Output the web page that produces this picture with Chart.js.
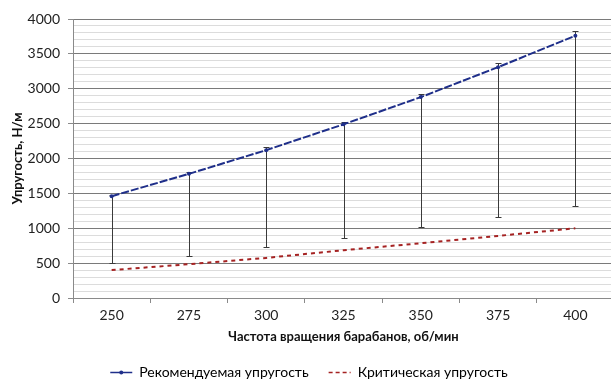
<!DOCTYPE html>
<html>
<head>
<meta charset="utf-8">
<script src="https://cdn.jsdelivr.net/npm/chart.js@4.4.1/dist/chart.umd.min.js"></script>
<style>
  html, body { margin: 0; padding: 0; background: #fff; overflow: hidden; }
  #wrap { width: 618px; height: 379px; }
</style>
</head>
<body>
<div id="wrap"><canvas id="chart"></canvas></div>
<script>
// ---- DATA ----
const speeds = ['250', '275', '300', '325', '350', '375', '400'];
const recommended = [1460, 1780, 2120, 2490, 2880, 3310, 3760];
const critical = [400, 485, 575, 685, 785, 890, 1000];
// error bar bounds for the recommended series
const recLow = [500, 605, 730, 865, 1015, 1160, 1325];
const recHigh = [1480, 1810, 2165, 2525, 2930, 3365, 3835];

const FONT = "Lato, 'Open Sans', sans-serif";
const BLUE = '#1f2f8a';
const RED = '#a52222';

// error bars + legend line samples, drawn with the chart's own scales / legend boxes
const errorBars = {
    id: 'errorBars',
    beforeDatasetsDraw(chart) {
        const { ctx } = chart;
        const xs = chart.scales.x, ys = chart.scales.y;
        ctx.save();
        ctx.strokeStyle = '#3a3a3a';
        ctx.lineWidth = 1;
        recommended.forEach((v, i) => {
            const x = Math.round(xs.getPixelForValue(i)) + 0.5;
            const yLo = Math.round(ys.getPixelForValue(recLow[i])) + 0.5;
            const yHi = Math.round(ys.getPixelForValue(recHigh[i])) + 0.5;
            ctx.beginPath();
            ctx.moveTo(x, yHi);
            ctx.lineTo(x, yLo);
            ctx.moveTo(x - 3, yHi);
            ctx.lineTo(x + 3, yHi);
            ctx.moveTo(x - 3, yLo);
            ctx.lineTo(x + 3, yLo);
            ctx.stroke();
        });
        ctx.restore();
    },
    afterDraw(chart) {
        const boxes = chart.legend && chart.legend.legendHitBoxes;
        if (!boxes) return;
        const ctx = chart.ctx;
        chart.data.datasets.forEach((ds, i) => {
            const b = boxes[i];
            if (!b) return;
            const y = Math.round(b.top + b.height / 2) + 0.5;
            ctx.save();
            ctx.strokeStyle = ds.borderColor;
            ctx.lineWidth = 1.5;
            ctx.setLineDash(i === 0 ? [] : [4, 3]);
            ctx.beginPath();
            ctx.moveTo(b.left, y);
            ctx.lineTo(b.left + 22, y);
            ctx.stroke();
            if (i === 0) {
                ctx.fillStyle = ds.borderColor;
                ctx.beginPath();
                ctx.arc(b.left + 11, y, 2, 0, Math.PI * 2);
                ctx.fill();
            }
            ctx.restore();
        });
    }
};

new Chart(document.getElementById('chart'), {
    type: 'line',
    data: {
        labels: speeds,
        datasets: [
            {
                label: 'Рекомендуемая упругость',
                data: recommended,
                borderColor: BLUE,
                backgroundColor: BLUE,
                borderWidth: 2,
                borderDash: [8, 2],
                pointRadius: 2,
                pointBorderWidth: 0,
                tension: 0
            },
            {
                label: 'Критическая упругость',
                data: critical,
                borderColor: RED,
                backgroundColor: RED,
                borderWidth: 2,
                borderDash: [4, 4],
                pointRadius: 0,
                tension: 0
            }
        ]
    },
    options: {
        responsive: true,
        maintainAspectRatio: false,
        animation: false,
        layout: { padding: { top: 19, left: 0, right: 0, bottom: -10 } },
        plugins: {
            tooltip: { enabled: false },
            legend: {
                position: 'bottom',
                labels: {
                    boxWidth: 22,
                    boxHeight: 2,
                    padding: 20,
                    color: '#222',
                    font: { family: FONT, size: 14 },
                    generateLabels: (chart) => chart.data.datasets.map((ds, i) => ({
                        text: ds.label,
                        fillStyle: 'rgba(0,0,0,0)',
                        strokeStyle: 'rgba(0,0,0,0)',
                        lineWidth: 0,
                        datasetIndex: i,
                        hidden: false
                    }))
                }
            }
        },
        scales: {
            x: {
                offset: true,
                grid: {
                    offset: true,
                    drawOnChartArea: false,
                    drawTicks: true,
                    tickLength: 5,
                    tickColor: '#8a8a8a'
                },
                border: { color: '#8a8a8a', width: 1 },
                ticks: { color: '#222', padding: 4, font: { family: FONT, size: 14 } },
                title: {
                    display: true,
                    text: 'Частота вращения барабанов, об/мин',
                    color: '#111',
                    font: { family: FONT, size: 13, weight: 'bold' },
                    padding: { top: 0, bottom: 0 }
                },
                afterFit(scale) { scale.height = 47; }
            },
            y: {
                min: 0,
                max: 4000,
                ticks: {
                    stepSize: 100,
                    autoSkip: false,
                    color: '#222',
                    padding: 8,
                    font: { family: FONT, size: 14 },
                    callback: (v) => (v % 500 === 0 ? v : '')
                },
                grid: {
                    drawTicks: true,
                    tickLength: 5,
                    color: (c) => (c.tick && c.tick.value % 500 === 0 ? '#7a7a7a' : '#dcdcdc'),
                    tickColor: (c) => (c.tick && c.tick.value % 500 === 0 ? '#8a8a8a' : 'rgba(0,0,0,0)')
                },
                border: { color: '#8a8a8a', width: 1 },
                title: {
                    display: true,
                    text: 'Упругость, Н/м',
                    color: '#111',
                    font: { family: FONT, size: 13, weight: 'bold' },
                    padding: { top: 10, bottom: 0 }
                },
                afterFit(scale) { scale.width = 73; }
            }
        }
    },
    plugins: [errorBars]
});
</script>
</body>
</html>
